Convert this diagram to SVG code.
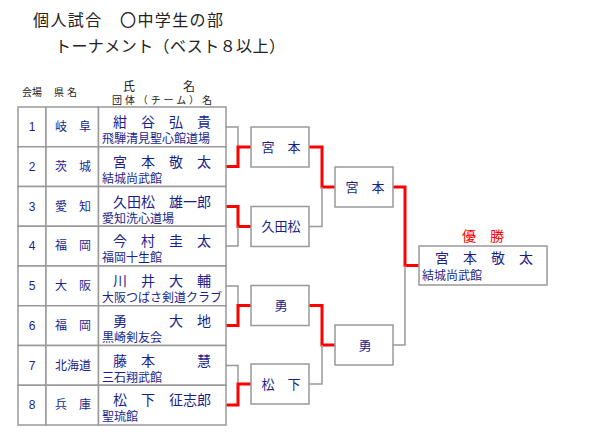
<svg xmlns="http://www.w3.org/2000/svg" width="600" height="440" viewBox="0 0 600 440">
<style>
.jp{font-family:"Noto Sans CJK JP","Noto Sans CJK SC",sans-serif;fill:#1a1f8c}
.ttl{font-family:"Noto Sans CJK JP",sans-serif;fill:#222;font-size:16px}
.hd{font-family:"Noto Sans CJK JP",sans-serif;fill:#222;font-size:10px}
.num{font-family:"Liberation Sans",Arial,sans-serif;font-size:12px;fill:#1a1f8c;text-anchor:middle}
.pref{font-size:12px;text-anchor:middle}
.nm{font-size:14px}
.tm{font-size:12px}
.bx{fill:#fff;stroke:#999;stroke-width:1.5}
.cell{fill:#fff;stroke:#999;stroke-width:1.5}
.w{fill:none;stroke:#ff0000;stroke-width:3}
.l{fill:none;stroke:#999;stroke-width:1.5}
.rn{font-size:13px;text-anchor:middle}
</style>
<text class="ttl" x="33" y="26" textLength="190" lengthAdjust="spacing">個人試合　〇中学生の部</text>
<text class="ttl" x="55" y="52" textLength="230" lengthAdjust="spacing">トーナメント（ベスト８以上）</text>
<text class="hd" x="32" y="96" text-anchor="middle">会場</text>
<text class="hd" x="67" y="96" text-anchor="middle" letter-spacing="3">県名</text>
<text class="hd" x="123" y="91" style="font-size:12px">氏　　　　名</text>
<text class="hd" x="112" y="104" textLength="100" lengthAdjust="spacing">団体（チーム）名</text>

<g id="connectors">
<polyline class="l" points="226,126.9 238,126.9 238,147"/>
<polyline class="w" points="226,166.6 238,166.6 238,147 251,147"/>
<polyline class="w" points="226,206.4 238,206.4 238,226.5 251,226.5"/>
<polyline class="l" points="226,246.1 238,246.1 238,226.5"/>
<polyline class="l" points="226,285.9 238,285.9 238,305.5"/>
<polyline class="w" points="226,325.6 238,325.6 238,305.5 251,305.5"/>
<polyline class="l" points="226,365.4 238,365.4 238,384"/>
<polyline class="w" points="226,405.1 238,405.1 238,384 251,384"/>
<polyline class="w" points="309,147 322,147 322,187 335,187"/>
<polyline class="l" points="309,226.5 322,226.5 322,187"/>
<polyline class="w" points="309,305.5 322,305.5 322,345 335,345"/>
<polyline class="l" points="309,384 322,384 322,345"/>
<polyline class="w" points="393,187 405,187 405,265.5 419,265.5"/>
<polyline class="l" points="393,345 405,345 405,265.5"/>
</g>

<g id="entry-1">
<rect class="cell" x="18" y="107" width="28" height="39.75"/><rect class="cell" x="46" y="107" width="52.5" height="39.75"/><rect class="cell" x="98.5" y="107" width="127.5" height="39.75"/>
<text class="num" x="32" y="131">1</text><text class="jp pref" x="73" y="131">岐　阜</text>
<text class="jp nm" x="113" y="127">紺　谷　弘　貴</text><text class="jp tm" x="102" y="143">飛騨清見聖心館道場</text>
</g>
<g id="entry-2">
<rect class="cell" x="18" y="146.75" width="28" height="39.75"/><rect class="cell" x="46" y="146.75" width="52.5" height="39.75"/><rect class="cell" x="98.5" y="146.75" width="127.5" height="39.75"/>
<text class="num" x="32" y="170.75">2</text><text class="jp pref" x="73" y="170.75">茨　城</text>
<text class="jp nm" x="113" y="166.75">宮　本　敬　太</text><text class="jp tm" x="102" y="182.75">結城尚武館</text>
</g>
<g id="entry-3">
<rect class="cell" x="18" y="186.5" width="28" height="39.75"/><rect class="cell" x="46" y="186.5" width="52.5" height="39.75"/><rect class="cell" x="98.5" y="186.5" width="127.5" height="39.75"/>
<text class="num" x="32" y="210.5">3</text><text class="jp pref" x="73" y="210.5">愛　知</text>
<text class="jp nm" x="113" y="206.5">久田松　雄一郎</text><text class="jp tm" x="102" y="222.5">愛知洗心道場</text>
</g>
<g id="entry-4">
<rect class="cell" x="18" y="226.25" width="28" height="39.75"/><rect class="cell" x="46" y="226.25" width="52.5" height="39.75"/><rect class="cell" x="98.5" y="226.25" width="127.5" height="39.75"/>
<text class="num" x="32" y="250.25">4</text><text class="jp pref" x="73" y="250.25">福　岡</text>
<text class="jp nm" x="113" y="246.25">今　村　圭　太</text><text class="jp tm" x="102" y="262.25">福岡十生館</text>
</g>
<g id="entry-5">
<rect class="cell" x="18" y="266" width="28" height="39.75"/><rect class="cell" x="46" y="266" width="52.5" height="39.75"/><rect class="cell" x="98.5" y="266" width="127.5" height="39.75"/>
<text class="num" x="32" y="290">5</text><text class="jp pref" x="73" y="290">大　阪</text>
<text class="jp nm" x="113" y="286">川　井　大　輔</text><text class="jp tm" x="102" y="302">大阪つばさ剣道クラブ</text>
</g>
<g id="entry-6">
<rect class="cell" x="18" y="305.75" width="28" height="39.75"/><rect class="cell" x="46" y="305.75" width="52.5" height="39.75"/><rect class="cell" x="98.5" y="305.75" width="127.5" height="39.75"/>
<text class="num" x="32" y="329.75">6</text><text class="jp pref" x="73" y="329.75">福　岡</text>
<text class="jp nm" x="113" y="325.75">勇　　　大　地</text><text class="jp tm" x="102" y="341.75">黒崎剣友会</text>
</g>
<g id="entry-7">
<rect class="cell" x="18" y="345.5" width="28" height="39.75"/><rect class="cell" x="46" y="345.5" width="52.5" height="39.75"/><rect class="cell" x="98.5" y="345.5" width="127.5" height="39.75"/>
<text class="num" x="32" y="369.5">7</text><text class="jp pref" x="73" y="369.5">北海道</text>
<text class="jp nm" x="113" y="365.5">藤　本　　　慧</text><text class="jp tm" x="102" y="381.5">三石翔武館</text>
</g>
<g id="entry-8">
<rect class="cell" x="18" y="385.25" width="28" height="39.75"/><rect class="cell" x="46" y="385.25" width="52.5" height="39.75"/><rect class="cell" x="98.5" y="385.25" width="127.5" height="39.75"/>
<text class="num" x="32" y="409.25">8</text><text class="jp pref" x="73" y="409.25">兵　庫</text>
<text class="jp nm" x="113" y="405.25">松　下　征志郎</text><text class="jp tm" x="102" y="421.25">聖琉館</text>
</g>

<g id="r1-1"><rect class="bx" x="251" y="127" width="58" height="40"/><text class="jp rn" x="281" y="152">宮　本</text></g>
<g id="r1-2"><rect class="bx" x="251" y="206.5" width="58" height="40"/><text class="jp rn" x="281" y="231">久田松</text></g>
<g id="r1-3"><rect class="bx" x="251" y="285.5" width="58" height="40"/><text class="jp rn" x="281" y="310">勇</text></g>
<g id="r1-4"><rect class="bx" x="251" y="364" width="58" height="40"/><text class="jp rn" x="281" y="389">松　下</text></g>
<g id="r2-1"><rect class="bx" x="335" y="167" width="58" height="40"/><text class="jp rn" x="365" y="192">宮　本</text></g>
<g id="r2-2"><rect class="bx" x="335" y="325" width="58" height="40"/><text class="jp rn" x="365" y="350">勇</text></g>
<g id="champion">
<text x="483" y="241" style="font-family:'Noto Sans CJK JP',sans-serif;font-size:14px;fill:#ff0000" text-anchor="middle">優　勝</text>
<rect class="bx" x="419" y="246" width="128" height="39"/>
<text class="jp nm" x="435" y="263">宮　本　敬　太</text>
<text class="jp tm" x="422" y="280">結城尚武館</text>
</g>
</svg>
